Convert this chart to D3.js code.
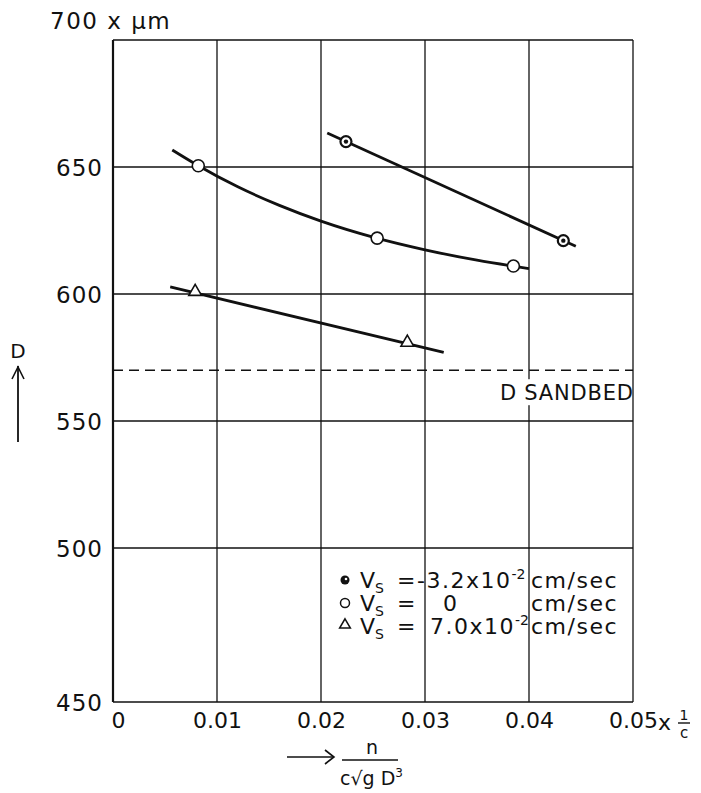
<!DOCTYPE html>
<html>
<head>
<meta charset="utf-8">
<script src="https://cdn.jsdelivr.net/npm/d3@7/dist/d3.min.js"></script>
<style>
  html, body { margin: 0; padding: 0; background: #fff; }
  svg { display: block; }
  text { font-family: "DejaVu Sans", "Liberation Sans", sans-serif; fill: #111; }
</style>
</head>
<body>
<svg id="chart" width="701" height="793"></svg>
<script>
// Axis ticks
const xTicks = [0, 0.01, 0.02, 0.03, 0.04, 0.05];
const xTickLabels = ["0", "0.01", "0.02", "0.03", "0.04", "0.05"];
const yTicks = [450, 500, 550, 600, 650, 700];
const yTickLabels = ["450", "500", "550", "600", "650"];

// Measured points for three settling velocities
const seriesValues = ["-3.2x10", "0", "7.0x10"];
const seriesExp = ["-2", "", "-2"];
const negX = [0.0224, 0.0433];
const negD = [660, 621];
const zeroX = [0.0082, 0.0254, 0.0385];
const zeroD = [650.5, 622, 611];
const posX = [0.0079, 0.0283];
const posD = [600.5, 580.5];

// Fitted curves drawn through the points
const negFitX = [0.0206, 0.0445];
const negFitD = [663.4, 618.8];
const zeroFitX = [0.0057, 0.008, 0.012, 0.016, 0.020, 0.025, 0.030, 0.035, 0.040];
const zeroFitD = [656.7, 651, 642.2, 634.9, 628.7, 622.4, 617.4, 613.3, 610.0];
const posFitX = [0.0055, 0.0318];
const posFitD = [602.8, 577];

// Sand bed level
const sandbedD = 570;

const svg = d3.select("#chart");
const x = d3.scaleLinear().domain([0, 0.05]).range([113, 633]);
// the bottom interval of the grid is drawn taller than the others
const y = d3.scaleLinear().domain([450, 500, 700]).range([702, 548, 40]);

const g = svg.append("g");

// grid
g.selectAll("line.vgrid").data(xTicks).join("line")
  .attr("x1", d => x(d)).attr("x2", d => x(d))
  .attr("y1", y(700)).attr("y2", y(450))
  .attr("stroke", "#111").attr("stroke-width", (d, i) => i === 0 ? 2.2 : 1.3);
g.selectAll("line.hgrid").data(yTicks).join("line")
  .attr("x1", x(0)).attr("x2", x(0.05))
  .attr("y1", d => y(d)).attr("y2", d => y(d))
  .attr("stroke", "#111").attr("stroke-width", 1.3);

// tick labels through d3 axes (axis lines removed, the grid carries them)
const yAxis = g.append("g").attr("transform", `translate(${x(0)},0)`)
  .call(d3.axisLeft(y).tickValues(yTicks.slice(0, 5)).tickSize(0).tickPadding(10)
    .tickFormat((d, i) => yTickLabels[i]));
yAxis.select(".domain").remove();
yAxis.selectAll("text").attr("font-family", null).attr("font-size", null)
  .style("font-size", "23px").style("letter-spacing", "1px").attr("dy", "0.36em");

const xAxis = g.append("g").attr("transform", `translate(0,${y(450)})`)
  .call(d3.axisBottom(x).tickValues(xTicks).tickSize(0).tickPadding(10)
    .tickFormat((d, i) => xTickLabels[i]));
xAxis.select(".domain").remove();
xAxis.selectAll("text").attr("font-family", null).attr("font-size", null)
  .style("font-size", "22px");
xAxis.selectAll(".tick").filter(d => d === 0).select("text").attr("x", 5);

// "x 1/c" after the last tick label
const unitG = g.append("g").attr("transform", `translate(${x(0.05) + 25},${y(450) + 28})`);
unitG.append("text").attr("x", 0).attr("y", 0).style("font-size", "22px").text("x");
unitG.append("text").attr("x", 26).attr("y", -10).attr("text-anchor", "middle").style("font-size", "14px").text("1");
unitG.append("line").attr("x1", 20).attr("x2", 32).attr("y1", -7).attr("y2", -7).attr("stroke", "#111").attr("stroke-width", 1.4);
unitG.append("text").attr("x", 26).attr("y", 8).attr("text-anchor", "middle").style("font-size", "15px").text("c");

// y unit at top
svg.append("text").attr("x", 50).attr("y", 29).style("font-size", "23px").style("letter-spacing", "1.5px").text("700 x \u00B5m");

// y-axis title with arrow
svg.append("text").attr("x", 18).attr("y", 358).attr("text-anchor", "middle").style("font-size", "20px").text("D");
svg.append("line").attr("x1", 18).attr("x2", 18).attr("y1", 366).attr("y2", 442).attr("stroke", "#111").attr("stroke-width", 1.8);
svg.append("path").attr("d", "M12,379 L18,367 L24,379").attr("fill", "none").attr("stroke", "#111").attr("stroke-width", 1.6);

// x-axis title: arrow and n / (c sqrt(g D^3))
const ax = svg.append("g");
ax.append("line").attr("x1", 287).attr("x2", 333).attr("y1", 757).attr("y2", 757).attr("stroke", "#111").attr("stroke-width", 1.6);
ax.append("path").attr("d", "M325,750 L334,757 L325,764").attr("fill", "none").attr("stroke", "#111").attr("stroke-width", 1.6);
ax.append("text").attr("x", 372).attr("y", 754).attr("text-anchor", "middle").style("font-size", "19px").text("n");
ax.append("line").attr("x1", 342).attr("x2", 398).attr("y1", 760).attr("y2", 760).attr("stroke", "#111").attr("stroke-width", 1.4);
const den = ax.append("text").attr("x", 340).attr("y", 785).style("font-size", "19px");
den.append("tspan").text("c\u221Ag D");
den.append("tspan").attr("dy", -8).style("font-size", "12px").text("3");

// sand bed dashed level
g.append("line").attr("x1", x(0)).attr("x2", x(0.05))
  .attr("y1", y(sandbedD)).attr("y2", y(sandbedD))
  .attr("stroke", "#111").attr("stroke-width", 1.6).attr("stroke-dasharray", "10,6");
g.append("rect").attr("x", x(0.0367)).attr("y", y(sandbedD) + 9).attr("width", 118).attr("height", 26).attr("fill", "#fff");
g.append("text").attr("x", x(0.0372)).attr("y", y(sandbedD) + 30)
  .style("font-size", "21px").style("letter-spacing", "0.8px").text("D  SANDBED");

// fitted lines
const line = d3.line().x(d => x(d[0])).y(d => y(d[1]));
const curve = d3.line().x(d => x(d[0])).y(d => y(d[1])).curve(d3.curveMonotoneX);
g.append("path").attr("d", line(d3.zip(negFitX, negFitD))).attr("fill", "none").attr("stroke", "#111").attr("stroke-width", 2.8);
g.append("path").attr("d", curve(d3.zip(zeroFitX, zeroFitD))).attr("fill", "none").attr("stroke", "#111").attr("stroke-width", 2.8);
g.append("path").attr("d", line(d3.zip(posFitX, posFitD))).attr("fill", "none").attr("stroke", "#111").attr("stroke-width", 2.8);

// markers
g.selectAll("circle.neg").data(d3.zip(negX, negD)).join("circle")
  .attr("cx", d => x(d[0])).attr("cy", d => y(d[1])).attr("r", 5.5)
  .attr("fill", "#fff").attr("stroke", "#111").attr("stroke-width", 2.2);
g.selectAll("circle.negdot").data(d3.zip(negX, negD)).join("circle")
  .attr("cx", d => x(d[0])).attr("cy", d => y(d[1])).attr("r", 2.2).attr("fill", "#111");
g.selectAll("circle.zero").data(d3.zip(zeroX, zeroD)).join("circle")
  .attr("cx", d => x(d[0])).attr("cy", d => y(d[1])).attr("r", 6)
  .attr("fill", "#fff").attr("stroke", "#111").attr("stroke-width", 1.6);
const tri = d3.symbol().type(d3.symbolTriangle).size(70);
g.selectAll("path.pos").data(d3.zip(posX, posD)).join("path")
  .attr("transform", d => `translate(${x(d[0])},${y(d[1]) - 1})`).attr("d", tri)
  .attr("fill", "#fff").attr("stroke", "#111").attr("stroke-width", 1.6);

// legend: one text element per row, pieces placed with tspans
const rows = [588, 611, 634];
const valStart = [417, 443, 430];
const leg = g.append("g");
leg.append("circle").attr("cx", 345).attr("cy", rows[0] - 8).attr("r", 4.5).attr("fill", "#111");
leg.append("circle").attr("cx", 346).attr("cy", rows[0] - 9).attr("r", 1.3).attr("fill", "#fff");
leg.append("circle").attr("cx", 345).attr("cy", rows[1] - 8).attr("r", 4.5).attr("fill", "#fff").attr("stroke", "#111").attr("stroke-width", 1.5);
leg.append("path").attr("transform", `translate(345,${rows[2] - 9})`).attr("d", d3.symbol().type(d3.symbolTriangle).size(50))
  .attr("fill", "#fff").attr("stroke", "#111").attr("stroke-width", 1.5);
rows.forEach((ry, i) => {
  const t = leg.append("text").attr("x", 360).attr("y", ry).style("font-size", "22px");
  t.append("tspan").text("V");
  t.append("tspan").attr("dy", 5).style("font-size", "14px").text("S");
  t.append("tspan").attr("x", 397).attr("y", ry).text("=");
  t.append("tspan").attr("x", valStart[i]).attr("y", ry).style("letter-spacing", "1.5px").text(seriesValues[i]);
  if (seriesExp[i]) t.append("tspan").attr("dy", -9).style("font-size", "14px").text(seriesExp[i]);
  t.append("tspan").attr("x", 531).attr("y", ry).style("letter-spacing", "1.5px").text("cm/sec");
});
</script>
</body>
</html>
